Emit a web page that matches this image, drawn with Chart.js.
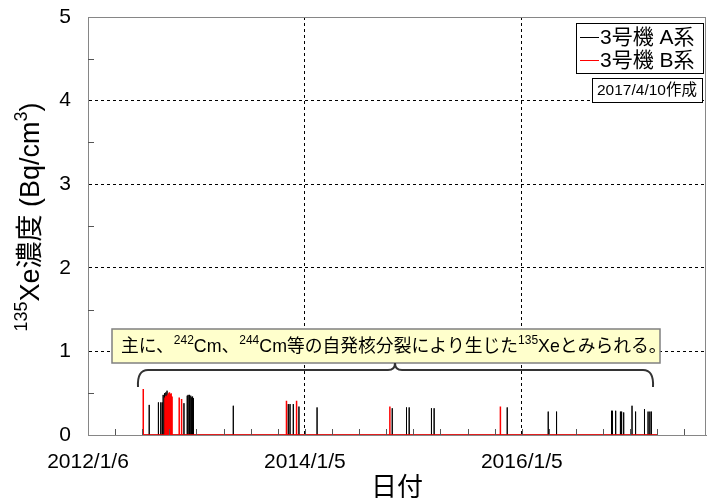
<!DOCTYPE html>
<html>
<head>
<meta charset="utf-8">
<script src="https://cdn.jsdelivr.net/npm/chart.js@4.4.1/dist/chart.umd.min.js"></script>
<style>
  html, body { margin: 0; background: #fff; }
</style>
</head>
<body>
<canvas id="chart" width="710" height="501"></canvas>
<script>
// x values are days counted from 2012/1/6
const startDate = Date.UTC(2012, 0, 6)
const xMax = 2080
const xTickDays = [0, 730, 1460]
const minorStep = 91.25

const seriesLabels = ["3号機 A系", "3号機 B系"]
const seriesColors = ["#000000", "#ff0000"]

// measuring period (baseline at 0)
const periodA = [186, 1918]
const periodB = [186, 1918]

// 3号機 A系 readings (Bq/cm3)
const daysA = [206, 237, 245, 250, 253, 256, 259, 262, 266, 323,
  334, 337, 340, 343, 346, 349, 352, 355, 489, 674, 680, 691, 710, 771,
  1024, 1072, 1081, 1156, 1165, 1411, 1549, 1577, 1762, 1765, 1776, 1792,
  1796, 1803, 1831, 1843, 1873, 1885, 1891, 1896]
const valuesA = [0.36, 0.39, 0.39, 0.39, 0.48, 0.50, 0.49, 0.51, 0.53, 0.38,
  0.47, 0.48, 0.46, 0.48, 0.47, 0.45, 0.46, 0.44, 0.35, 0.37, 0.37, 0.37, 0.34, 0.33,
  0.32, 0.33, 0.33, 0.32, 0.32, 0.33, 0.28, 0.28, 0.29, 0.29, 0.29, 0.28,
  0.28, 0.27, 0.35, 0.28, 0.31, 0.28, 0.28, 0.28]

// 3号機 B系 readings (Bq/cm3)
const daysB = [186, 259, 262, 265, 268, 271, 274, 277, 280, 283, 307, 315,
  668, 702, 1016, 1388]
const valuesB = [0.55, 0.45, 0.47, 0.46, 0.48, 0.50, 0.51, 0.49, 0.50, 0.46, 0.45, 0.43,
  0.41, 0.41, 0.34, 0.34]

const yTitle = [["135", true], ["Xe濃度 (Bq/cm", false], ["3", true], [")", false]]
const xTitle = "日付"
const madeOn = "2017/4/10作成"
const note = [["主に、", false], ["242", true], ["Cm、", false], ["244", true],
  ["Cm等の自発核分裂により生じた", false], ["135", true], ["Xeとみられる。", false]]

const FONT = '"Liberation Sans", Arial, "Noto Sans CJK JP", sans-serif'

function fmtDate(v) {
  const d = new Date(startDate + v * 86400000)
  return d.getUTCFullYear() + "/" + (d.getUTCMonth() + 1) + "/" + d.getUTCDate()
}

function buildSeries(period, days, values) {
  const pts = [{ x: period[0], y: 0 }]
  days.forEach((d, i) => {
    pts.push({ x: d, y: 0 }, { x: d, y: values[i] }, { x: d, y: 0 })
  })
  pts.push({ x: period[1], y: 0 })
  return pts
}

// draws text pieces with superscripts, returns width
function drawRich(ctx, pieces, x, y, size, measureOnly) {
  let w = 0
  const sup = Math.round(size * 0.66)
  pieces.forEach(([t, isSup]) => {
    ctx.font = (isSup ? sup : size) + "px " + FONT
    if (!measureOnly) ctx.fillText(t, x + w, isSup ? y - size * 0.36 : y)
    w += ctx.measureText(t).width
  })
  return w
}

const decorations = {
  id: "decorations",
  afterDraw(chart) {
    const { ctx, chartArea: a, scales: { x, y } } = chart
    ctx.save()

    // frame
    ctx.strokeStyle = "#868686"
    ctx.lineWidth = 1
    ctx.strokeRect(a.left + 0.5, a.top + 0.5, a.right - a.left - 1, a.bottom - a.top)

    // minor ticks
    ctx.strokeStyle = "#555"
    ctx.beginPath()
    for (let v = 0.5; v < 5; v += 1) {
      const py = Math.round(y.getPixelForValue(v)) + 0.5
      ctx.moveTo(a.left, py)
      ctx.lineTo(a.left + 6, py)
    }
    for (let v = minorStep; v < xMax; v += minorStep) {
      const px = Math.round(x.getPixelForValue(v)) + 0.5
      ctx.moveTo(px, a.bottom)
      ctx.lineTo(px, a.bottom - 6)
    }
    ctx.stroke()

    // legend
    ctx.strokeStyle = "#000"
    ctx.strokeRect(576.5, 23.5, 127, 50)
    ctx.font = "21px " + FONT
    ctx.textBaseline = "middle"
    ctx.textAlign = "left"
    chart.data.datasets.forEach((ds, i) => {
      const ly = 37 + i * 23
      ctx.strokeStyle = ds.borderColor
      ctx.lineWidth = 1
      ctx.beginPath()
      ctx.moveTo(580, ly + 0.5)
      ctx.lineTo(599, ly + 0.5)
      ctx.stroke()
      ctx.fillStyle = "#000"
      ctx.fillText(ds.label, 600, ly + 1)
    })

    // creation date box
    ctx.strokeStyle = "#000"
    ctx.fillStyle = "#fff"
    ctx.fillRect(592.5, 78.5, 110, 24)
    ctx.strokeRect(592.5, 78.5, 110, 24)
    ctx.fillStyle = "#000"
    ctx.font = "15.5px " + FONT
    ctx.fillText(madeOn, 597, 91)

    // annotation box
    ctx.fillStyle = "#ffffcc"
    ctx.fillRect(112, 329, 548, 34)
    ctx.strokeStyle = "#808080"
    ctx.lineWidth = 1.5
    ctx.strokeRect(112, 329, 548, 34)
    ctx.fillStyle = "#000"
    drawRich(ctx, note, 121, 347, 17.8, false)

    // brace
    ctx.strokeStyle = "#333"
    ctx.lineWidth = 2
    ctx.beginPath()
    ctx.moveTo(138, 387)
    ctx.quadraticCurveTo(137, 370, 148, 370)
    ctx.lineTo(388, 370)
    ctx.quadraticCurveTo(395, 370, 395, 363)
    ctx.quadraticCurveTo(395, 370, 402, 370)
    ctx.lineTo(643, 370)
    ctx.quadraticCurveTo(654, 370, 653, 387)
    ctx.stroke()

    // axis titles
    ctx.fillStyle = "#000"
    ctx.font = "26px " + FONT
    ctx.textAlign = "center"
    ctx.fillText(xTitle, (a.left + a.right) / 2, 489)

    ctx.translate(32, 217)
    ctx.rotate(-Math.PI / 2)
    ctx.textAlign = "left"
    const w = drawRich(ctx, yTitle, 0, 0, 27, true)
    drawRich(ctx, yTitle, -w / 2, 0, 27, false)
    ctx.restore()
  }
}

const tickFont = { family: FONT, size: 21 }

new Chart(document.getElementById("chart"), {
  type: "line",
  data: {
    datasets: [
      {
        label: seriesLabels[0],
        data: buildSeries(periodA, daysA, valuesA),
        borderColor: seriesColors[0],
        borderWidth: 1,
        pointRadius: 0,
        tension: 0,
        order: 2
      },
      {
        label: seriesLabels[1],
        data: buildSeries(periodB, daysB, valuesB),
        borderColor: seriesColors[1],
        borderWidth: 1.5,
        pointRadius: 0,
        tension: 0,
        order: 1
      }
    ]
  },
  options: {
    responsive: false,
    animation: false,
    layout: { padding: { top: 17, right: 4, left: 0, bottom: 0 } },
    plugins: {
      legend: { display: false },
      tooltip: { enabled: false }
    },
    scales: {
      x: {
        type: "linear",
        min: 0,
        max: xMax,
        afterFit: s => { s.height = 66 },
        afterBuildTicks: s => { s.ticks = xTickDays.map(v => ({ value: v })) },
        ticks: {
          autoSkip: false,
          maxRotation: 0,
          padding: 15,
          color: "#000",
          font: tickFont,
          callback: v => fmtDate(v)
        },
        grid: {
          drawTicks: false,
          lineWidth: 1,
          color: c => (c.tick && c.tick.value > 0) ? "#000" : "transparent"
        },
        border: { color: "#868686", width: 1, dash: [3, 3] }
      },
      y: {
        min: 0,
        max: 5,
        afterFit: s => { s.width = 88; s.paddingTop = 0; s.paddingBottom = 0 },
        ticks: {
          stepSize: 1,
          padding: 17,
          color: "#000",
          font: tickFont
        },
        grid: {
          drawTicks: false,
          lineWidth: 1,
          color: c => (c.tick && c.tick.value > 0 && c.tick.value < 5) ? "#000" : "transparent"
        },
        border: { color: "#868686", width: 1, dash: [3, 3] }
      }
    }
  },
  plugins: [decorations]
})
</script>
</body>
</html>
